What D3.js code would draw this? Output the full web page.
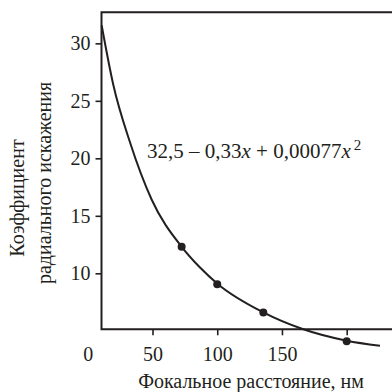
<!DOCTYPE html>
<html>
<head>
<meta charset="utf-8">
<script src="https://cdn.jsdelivr.net/npm/d3@7"></script>
<style>
  text, tspan { font-family: "Liberation Serif", "Times New Roman" !important; }
</style>
</head>
<body style="margin:0">
<div id="chart"></div>
<script>
// values
const xTickValues = [0, 50, 100, 150, 200];
const xTickLabels = ["0", "50", "100", "150", ""];
const yTickValues = [10, 15, 20, 25, 30];

// measured points
const pointX = [72.5, 100, 135.6, 200];
const pointY = [12.3, 9.05, 6.6, 4.1];

// fitted curve
const curveX = [10.75, 19.7, 32.6, 49.4, 72.55, 86.7, 100.6, 135.6, 166.5, 200, 225.7];
const curveY = [31.55, 26.4, 21.4, 16.4, 12.3, 10.5, 9.05, 6.6, 5.13, 4.14, 3.7];

const ink = "#231f20";
const fontName = "Liberation Serif";

let width = 392, height = 392;

let svg = d3.select("#chart").append("svg")
    .attr("width", width)
    .attr("height", height)
    .attr("font-family", fontName);

// scales
let xScale = d3.scaleLinear().domain([10.6, 235]).range([101.5, 392]);
let yScale = d3.scaleLinear().domain([5.13, 32.7]).range([329.3, 12.3]);

let x0 = xScale.range()[0], x1 = xScale.range()[1];
let yBottom = yScale.range()[0], yTop = yScale.range()[1];

// axes
let xAxis = d3.axisBottom(xScale)
    .tickValues(xTickValues)
    .tickFormat((d, i) => xTickLabels[i])
    .tickSize(6)
    .tickPadding(12);

let yAxis = d3.axisLeft(yScale)
    .tickValues(yTickValues)
    .tickSize(6)
    .tickPadding(5);

let xGroup = svg.append("g")
    .attr("transform", `translate(0,${yBottom})`)
    .call(xAxis);

let yGroup = svg.append("g")
    .attr("transform", `translate(${x0},0)`)
    .call(yAxis);

[xGroup, yGroup].forEach(g => {
  g.attr("font-family", fontName).attr("font-size", 20);
  g.select(".domain").remove();
  g.selectAll(".tick line").attr("stroke", ink).attr("stroke-width", 1.6);
  g.selectAll(".tick text")
    .attr("fill", ink)
    .attr("font-family", fontName)
    .style("font-family", `"${fontName}"`)
    .style("font-size", "20px");
});
// no tick mark at 0, it sits left of the frame
xGroup.selectAll(".tick").filter(d => d === 0).select("line").remove();

// frame: top, left and bottom lines
svg.append("path")
    .attr("d", `M${x1},${yTop}H${x0}V${yBottom}H${x1}`)
    .attr("stroke", ink)
    .attr("stroke-width", 2)
    .attr("fill", "none");

// curve
let curveData = curveX.map((d, i) => [d, curveY[i]]);
let line = d3.line()
    .x(d => xScale(d[0]))
    .y(d => yScale(d[1]))
    .curve(d3.curveMonotoneX);

svg.append("path")
    .datum(curveData)
    .attr("d", line)
    .attr("fill", "none")
    .attr("stroke", ink)
    .attr("stroke-width", 2);

// points
svg.selectAll(".pt")
    .data(pointX.map((d, i) => [d, pointY[i]]))
    .enter()
    .append("circle")
    .attr("class", "pt")
    .attr("cx", d => xScale(d[0]))
    .attr("cy", d => yScale(d[1]))
    .attr("r", 4)
    .attr("fill", ink);

// formula
let formula = svg.append("text")
    .attr("x", 147)
    .attr("y", 158)
    .attr("fill", ink)
    .attr("font-family", fontName)
    .style("font-family", `"${fontName}"`)
    .style("font-size", "21px");
formula.append("tspan").text("32,5 – 0,33");
formula.append("tspan").style("font-style", "italic").text("x");
formula.append("tspan").text(" + 0,00077");
formula.append("tspan").style("font-style", "italic").text("x");
formula.append("tspan").attr("dx", 3).attr("dy", -8).style("font-size", "15px").text("2");

// axis labels
let labels = [
  { text: "Фокальное расстояние, нм", transform: "translate(251,388)" },
  { text: "Коэффициент", transform: "translate(24,198) rotate(-90)" },
  { text: "радиального искажения", transform: "translate(51,183) rotate(-90)" }
];
svg.selectAll(".label")
    .data(labels)
    .enter()
    .append("text")
    .attr("class", "label")
    .attr("transform", d => d.transform)
    .attr("fill", ink)
    .attr("font-family", fontName)
    .style("font-family", `"${fontName}"`)
    .style("text-anchor", "middle")
    .style("font-size", "20px")
    .text(d => d.text);
</script>
</body>
</html>
